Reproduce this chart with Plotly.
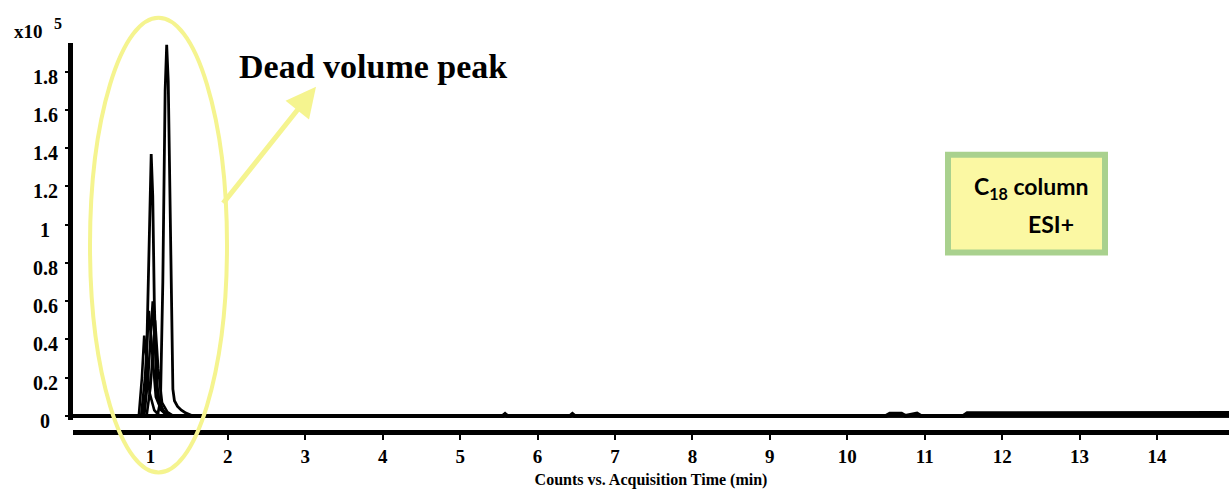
import plotly.graph_objects as go

# ---------------- data ----------------
x_ticks = [1, 2, 3, 4, 5, 6, 7, 8, 9, 10, 11, 12, 13, 14]
x_tick_labels = [str(v) for v in x_ticks]
y_ticks = [0, 0.2, 0.4, 0.6, 0.8, 1.0, 1.2, 1.4, 1.6, 1.8]
y_tick_labels = ["0", "0.2", "0.4", "0.6", "0.8", "1", "1.2", "1.4", "1.6", "1.8"]

# chromatograms (counts x10^5 vs time, min)
tall_x = [0.0, 1.09, 1.13, 1.16, 1.19, 1.21, 1.23, 1.26, 1.29, 1.31, 1.35, 1.40, 1.46, 1.55, 14.93]
tall_y = [0.0, 0.0, 0.08, 0.70, 1.70, 1.94, 1.75, 0.90, 0.14, 0.08, 0.05, 0.03, 0.015, 0.0, 0.0]

second_x = [0.0, 0.90, 0.94, 0.97, 1.00, 1.01, 1.03, 1.05, 1.08, 1.12, 1.18, 1.26, 14.93]
second_y = [0.0, 0.0, 0.12, 0.60, 1.20, 1.37, 1.15, 0.60, 0.15, 0.06, 0.02, 0.0, 0.0]

third_x = [0.0, 0.92, 0.97, 1.01, 1.03, 1.06, 1.10, 1.16, 1.24, 14.93]
third_y = [0.0, 0.0, 0.20, 0.50, 0.60, 0.35, 0.10, 0.03, 0.0, 0.0]

fourth_x = [0.0, 0.85, 0.89, 0.92, 0.95, 0.99, 1.05, 1.12, 14.93]
fourth_y = [0.0, 0.0, 0.20, 0.42, 0.30, 0.12, 0.03, 0.0, 0.0]

fifth_x = [0.0, 0.88, 0.93, 0.98, 1.02, 1.07, 1.14, 1.22, 14.93]
fifth_y = [0.0, 0.0, 0.20, 0.55, 0.35, 0.10, 0.03, 0.0, 0.0]

sixth_x = [0.0, 0.95, 1.00, 1.06, 1.10, 1.15, 1.22, 1.30, 14.93]
sixth_y = [0.0, 0.0, 0.15, 0.50, 0.25, 0.07, 0.02, 0.0, 0.0]

noise_x = [0.0, 5.55, 5.58, 5.61, 6.42, 6.45, 6.48, 10.50, 10.55, 10.70, 10.75,
           10.90, 10.95, 11.50, 11.55, 11.80, 11.85, 12.30, 12.35, 14.93]
noise_y = [0.0, 0.0, 0.010, 0.0, 0.0, 0.010, 0.0, 0.0, 0.012, 0.012, 0.0,
           0.012, 0.0, 0.0, 0.014, 0.014, 0.012, 0.014, 0.016, 0.016]

series = [
    (noise_x, noise_y, 4),
    (fourth_x, fourth_y, 2.6),
    (fifth_x, fifth_y, 2.6),
    (third_x, third_y, 2.6),
    (sixth_x, sixth_y, 2.6),
    (second_x, second_y, 2.8),
    (tall_x, tall_y, 2.8),
]

# ---------------- layout geometry (pixels) ----------------
W, H = 1229, 494
L, R, T, B = 73, 0, 43.3, 61.5
PW = W - L - R
PH = H - T - B


def px(xp):
    return (xp - L) / PW


def py(yp):
    return (H - B - yp) / PH


fig = go.Figure()
for xs, ys, w in series:
    fig.add_trace(go.Scatter(x=xs, y=ys, mode="lines",
                             line=dict(color="black", width=w),
                             showlegend=False, hoverinfo="skip"))

serif = "Liberation Serif, Times New Roman, serif"

fig.update_layout(
    width=W, height=H,
    margin=dict(l=L, r=R, t=T, b=B),
    paper_bgcolor="white", plot_bgcolor="white",
    showlegend=False,
    xaxis=dict(
        range=[0, 14.93], anchor="free", position=0,
        showline=True, linecolor="black", linewidth=5,
        showgrid=False, zeroline=False,
        ticks="outside", ticklen=5, tickwidth=2, tickcolor="black",
        tickvals=x_ticks, ticktext=x_tick_labels,
        tickfont=dict(family=serif, size=19, color="black", weight="bold"),
        title=dict(text="Counts vs. Acquisition Time (min)", standoff=8,
                   font=dict(family=serif, size=16, color="black", weight="bold")),
    ),
    yaxis=dict(
        range=[-0.02, 1.95], domain=[0.0313, 1],
        showline=True, linecolor="black", linewidth=5,
        showgrid=False, zeroline=False,
        ticks="outside", ticklen=3, tickwidth=2, tickcolor="black",
        tickvals=y_ticks, showticklabels=False,
    ),
)

annotations = []
# centered y tick labels
for v, t in zip(y_ticks, y_tick_labels):
    annotations.append(dict(x=0, xref="paper", y=v, yref="y", text=t,
                            showarrow=False, xanchor="center", yanchor="middle",
                            xshift=-(L - 45), yshift=-5,
                            font=dict(family=serif, size=20, color="black", weight="bold")))

annotations += [
    dict(x=px(12), y=py(32), xref="paper", yref="paper", xanchor="left", yanchor="middle",
         text="x10", showarrow=False,
         font=dict(family=serif, size=19, color="black", weight="bold")),
    dict(x=px(58), y=py(24), xref="paper", yref="paper", xanchor="center", yanchor="middle",
         text="5", showarrow=False,
         font=dict(family=serif, size=16, color="black", weight="bold")),
    dict(x=px(373), y=py(67), xref="paper", yref="paper", xanchor="center", yanchor="middle",
         text="Dead volume peak", showarrow=False,
         font=dict(family=serif, size=34, color="black", weight="bold")),
    dict(x=px(316), y=py(87), xref="paper", yref="paper", text="", showarrow=True,
         ax=222 - 316, ay=205 - 87, arrowcolor="#f5f48f", arrowwidth=5,
         arrowhead=2, arrowsize=1.2),
    dict(x=px(1031), y=py(188), xref="paper", yref="paper", xanchor="center", yanchor="middle",
         text="C<sub>18</sub> column", showarrow=False,
         font=dict(family="Lato, Open Sans, sans-serif", size=23, color="black", weight="bold")),
    dict(x=px(1051), y=py(224), xref="paper", yref="paper", xanchor="center", yanchor="middle",
         text="ESI+", showarrow=False,
         font=dict(family="Lato, Open Sans, sans-serif", size=23, color="black", weight="bold")),
]
fig.update_layout(annotations=annotations)

fig.add_shape(type="circle", xref="paper", yref="paper",
              x0=px(90), x1=px(227), y0=py(473), y1=py(18),
              line=dict(color="#f5f48f", width=4), layer="above")
fig.add_shape(type="rect", xref="paper", yref="paper",
              x0=px(948), x1=px(1105), y0=py(253), y1=py(155),
              fillcolor="#fbf8a3", line=dict(color="#a9d18e", width=6), layer="above")

fig.write_html("out.html")
